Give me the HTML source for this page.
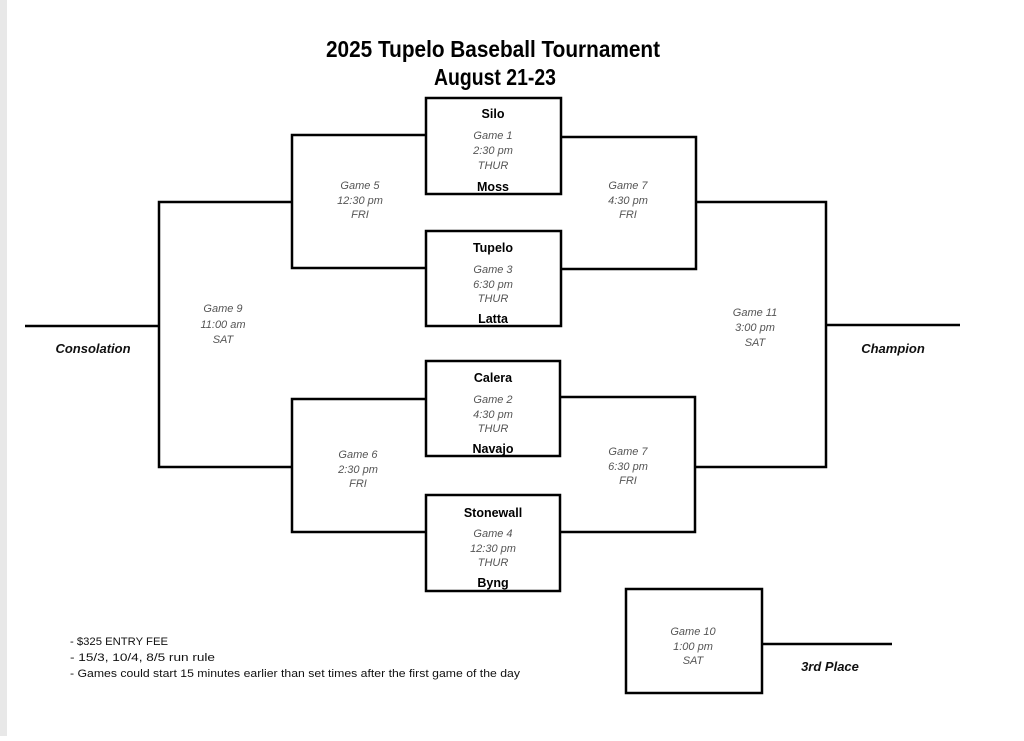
<!DOCTYPE html>
<html><head><meta charset="utf-8"><style>
html,body{margin:0;padding:0;background:#fff;}
body{width:1024px;height:736px;overflow:hidden;}
svg text{font-family:"Liberation Sans",Arial,sans-serif;}
.t{font-weight:bold;font-size:12.5px;fill:#000;text-anchor:middle;}
.g{font-style:italic;font-size:11px;fill:#555;text-anchor:middle;}
.l{font-style:italic;font-weight:bold;font-size:13px;fill:#111;text-anchor:middle;}
.n{font-size:11px;fill:#111;}
</style></head><body>
<svg width="1024" height="736" viewBox="0 0 1024 736" xmlns="http://www.w3.org/2000/svg">
<rect x="0" y="0" width="7" height="736" fill="#e8e8e8"/>
<text x="326" y="57" font-weight="bold" font-size="23" fill="#000" textLength="334" lengthAdjust="spacingAndGlyphs">2025  Tupelo Baseball Tournament</text>
<text x="434" y="85" font-weight="bold" font-size="23" fill="#000" textLength="122" lengthAdjust="spacingAndGlyphs">August 21-23</text>
<g fill="none" stroke="#000" stroke-width="2.5">
<rect x="426" y="98" width="135" height="96"/>
<rect x="426" y="231" width="135" height="95"/>
<rect x="426" y="361" width="134" height="95"/>
<rect x="426" y="495" width="134" height="96"/>
<polyline points="426,135 292,135 292,268 426,268"/>
<polyline points="561,137 696,137 696,269 561,269"/>
<polyline points="426,399 292,399 292,532 426,532"/>
<polyline points="560,397 695,397 695,532 560,532"/>
<polyline points="292,202 159,202 159,467 292,467"/>
<polyline points="696,202 826,202 826,467 695,467"/>
<line x1="25" y1="326" x2="159" y2="326"/>
<line x1="826" y1="325" x2="960" y2="325"/>
<rect x="626" y="589" width="136" height="104"/>
<line x1="762" y1="644" x2="892" y2="644"/>
</g>
<text class="t" x="493" y="118">Silo</text>
<text class="g" x="493" y="139">Game 1</text><text class="g" x="493" y="154">2:30 pm</text><text class="g" x="493" y="169">THUR</text>
<text class="t" x="493" y="191">Moss</text>
<text class="t" x="493" y="252">Tupelo</text>
<text class="g" x="493" y="273">Game 3</text><text class="g" x="493" y="288">6:30 pm</text><text class="g" x="493" y="302">THUR</text>
<text class="t" x="493" y="323">Latta</text>
<text class="t" x="493" y="382">Calera</text>
<text class="g" x="493" y="403">Game 2</text><text class="g" x="493" y="418">4:30 pm</text><text class="g" x="493" y="432">THUR</text>
<text class="t" x="493" y="453">Navajo</text>
<text class="t" x="493" y="517">Stonewall</text>
<text class="g" x="493" y="537">Game 4</text><text class="g" x="493" y="552">12:30 pm</text><text class="g" x="493" y="566">THUR</text>
<text class="t" x="493" y="587">Byng</text>
<text class="g" x="360" y="189">Game 5</text><text class="g" x="360" y="204">12:30 pm</text><text class="g" x="360" y="218">FRI</text>
<text class="g" x="628" y="189">Game 7</text><text class="g" x="628" y="204">4:30 pm</text><text class="g" x="628" y="218">FRI</text>
<text class="g" x="358" y="458">Game 6</text><text class="g" x="358" y="473">2:30 pm</text><text class="g" x="358" y="487">FRI</text>
<text class="g" x="628" y="455">Game 7</text><text class="g" x="628" y="470">6:30 pm</text><text class="g" x="628" y="484">FRI</text>
<text class="g" x="223" y="312">Game 9</text><text class="g" x="223" y="328">11:00 am</text><text class="g" x="223" y="343">SAT</text>
<text class="g" x="755" y="316">Game 11</text><text class="g" x="755" y="331">3:00 pm</text><text class="g" x="755" y="346">SAT</text>
<text class="g" x="693" y="635">Game 10</text><text class="g" x="693" y="650">1:00 pm</text><text class="g" x="693" y="664">SAT</text>
<text class="l" x="93" y="353">Consolation</text>
<text class="l" x="893" y="353">Champion</text>
<text class="l" x="830" y="671">3rd Place</text>
<text class="n" x="70" y="645" textLength="98" lengthAdjust="spacingAndGlyphs">- $325 ENTRY FEE</text>
<text class="n" x="70" y="661" textLength="145" lengthAdjust="spacingAndGlyphs">- 15/3, 10/4, 8/5 run rule</text>
<text class="n" x="70" y="677" textLength="450" lengthAdjust="spacingAndGlyphs">- Games could start 15 minutes earlier than set times after the first game of the day</text>
</svg>
</body></html>
